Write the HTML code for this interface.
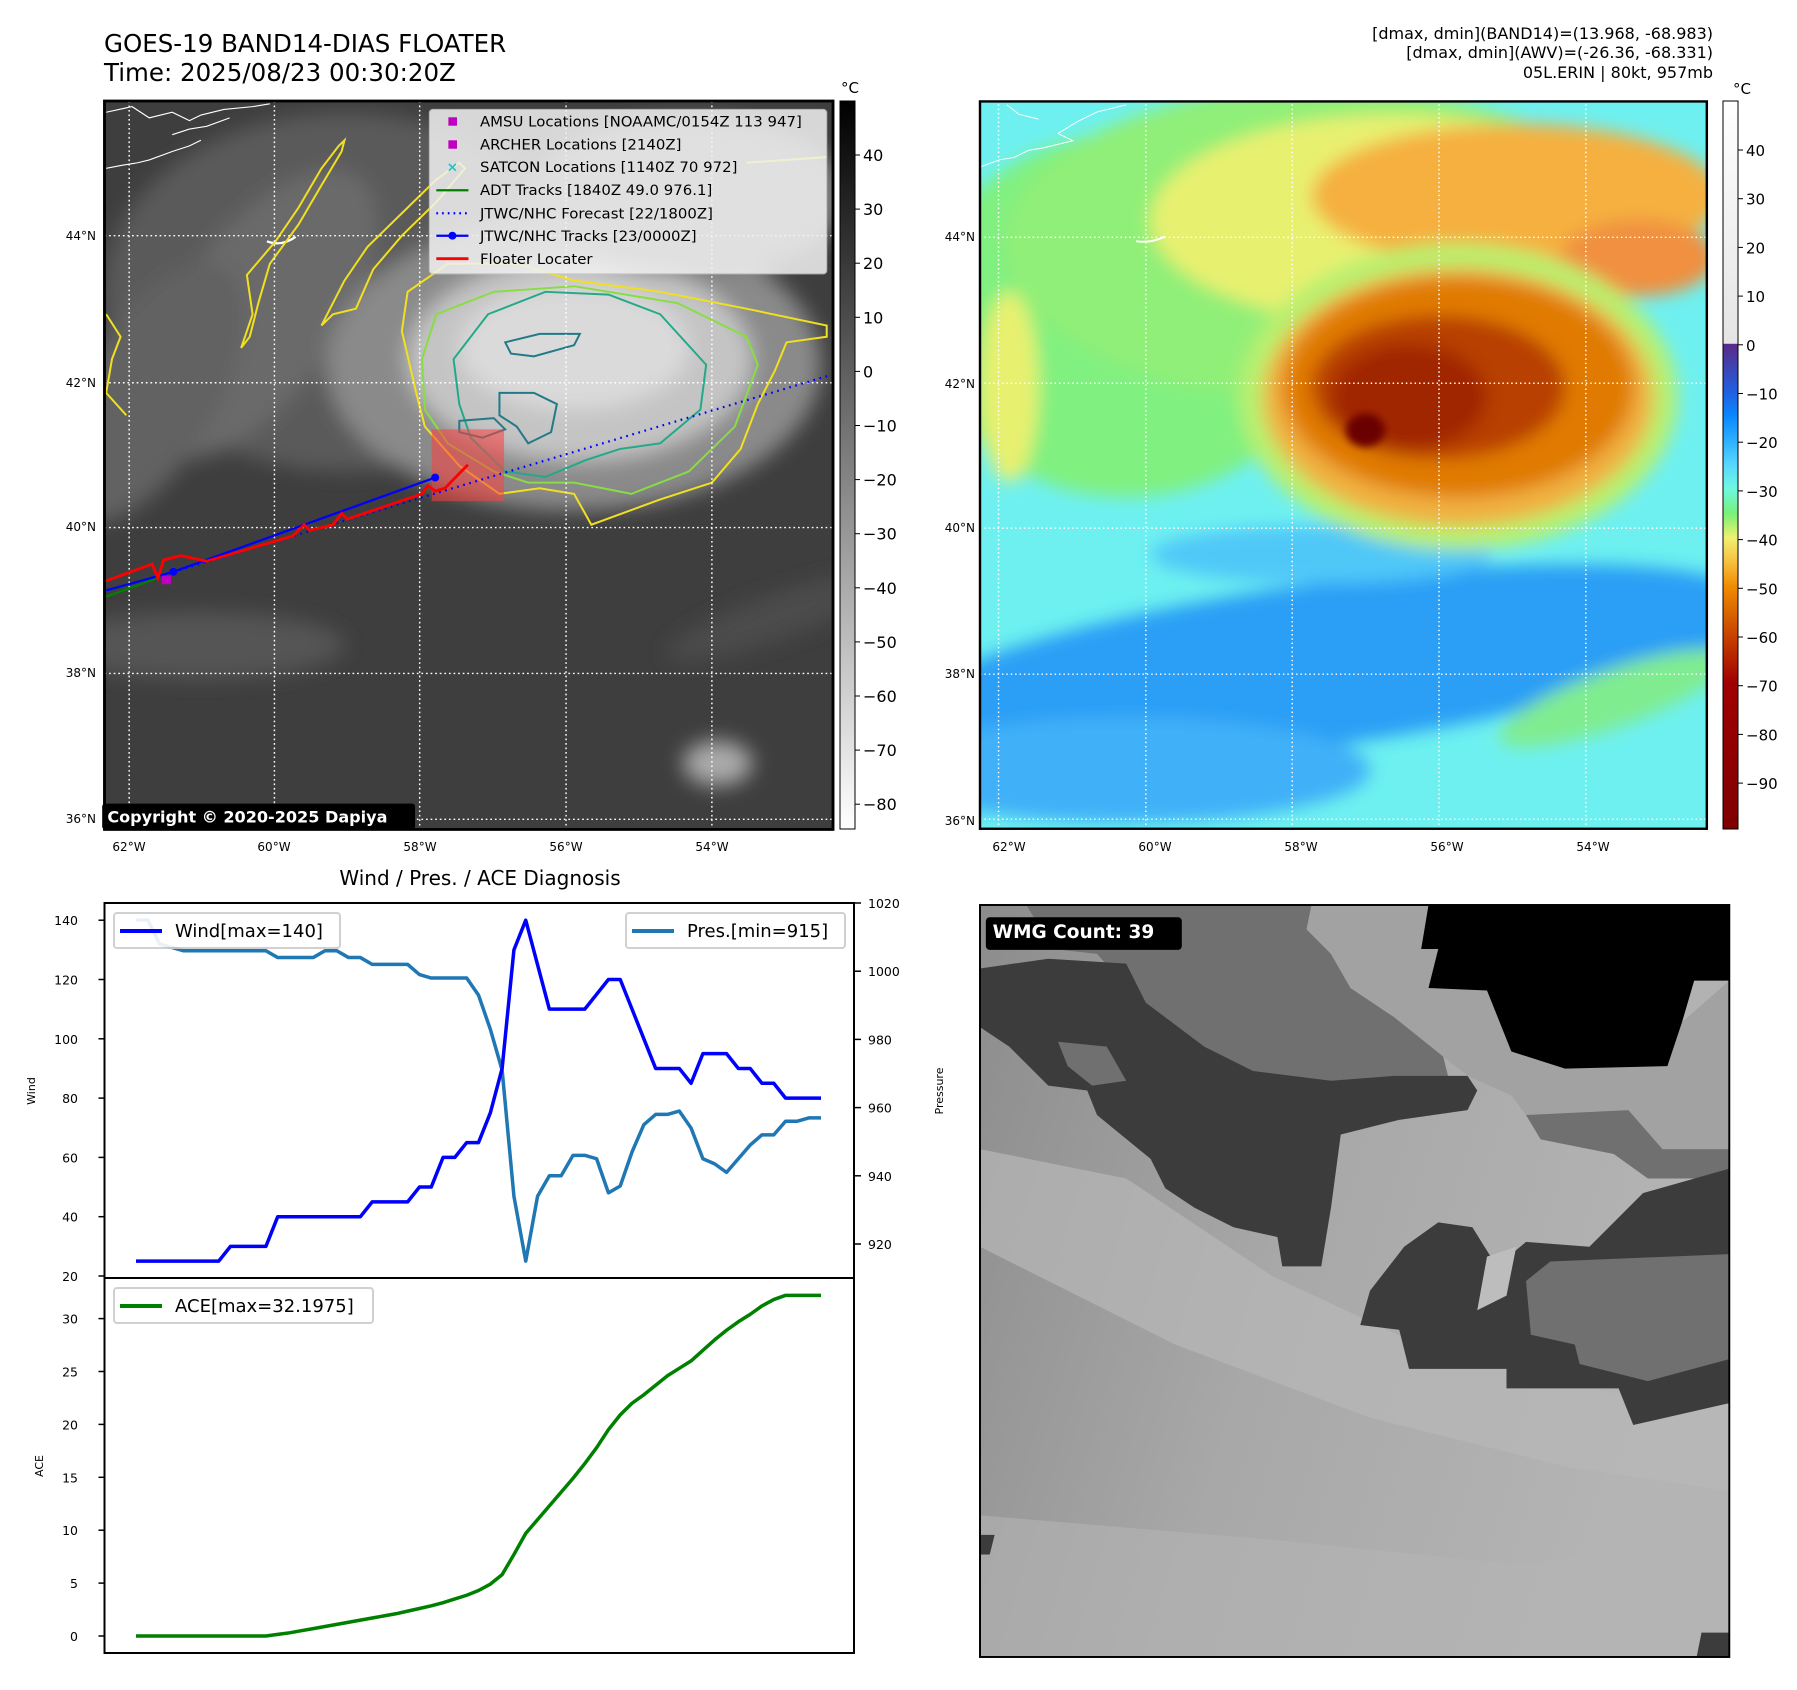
<!DOCTYPE html>
<html><head><meta charset="utf-8"><style>
html,body{margin:0;padding:0;background:#fff;}
svg{display:block;font-family:"DejaVu Sans","Liberation Sans",sans-serif;}
</style></head><body>
<svg id="root" width="1797" height="1690" viewBox="0 0 1797 1690" xmlns="http://www.w3.org/2000/svg">
<defs>
  <filter id="blur8" x="-30%" y="-30%" width="160%" height="160%"><feGaussianBlur stdDeviation="18"/></filter>
  <filter id="blur4" x="-30%" y="-30%" width="160%" height="160%"><feGaussianBlur stdDeviation="8"/></filter>
  <linearGradient id="cb1" x1="0" y1="0" x2="0" y2="1">
    <stop offset="0" stop-color="#000"/><stop offset="1" stop-color="#fff"/>
  </linearGradient>
  <linearGradient id="cb2" x1="0" y1="0" x2="0" y2="1">
    <stop offset="0" stop-color="#ffffff"/><stop offset="0.333" stop-color="#e4e4e4"/>
    <stop offset="0.334" stop-color="#5a2a8a"/><stop offset="0.4" stop-color="#2060e0"/>
    <stop offset="0.433" stop-color="#0a88ff"/><stop offset="0.47" stop-color="#30b4ff"/>
    <stop offset="0.5" stop-color="#58d8ff"/><stop offset="0.533" stop-color="#70f8e0"/>
    <stop offset="0.567" stop-color="#78f078"/><stop offset="0.6" stop-color="#f0f070"/>
    <stop offset="0.633" stop-color="#f8c040"/><stop offset="0.667" stop-color="#f08c00"/>
    <stop offset="0.733" stop-color="#c84400"/><stop offset="0.8" stop-color="#a00000"/>
    <stop offset="1" stop-color="#7e0000"/>
  </linearGradient>
  <linearGradient id="wmgbg" x1="0" y1="0" x2="1" y2="0.3">
    <stop offset="0" stop-color="#8c8c8c"/><stop offset="0.5" stop-color="#a8a8a8"/><stop offset="1" stop-color="#b4b4b4"/>
  </linearGradient>
  <clipPath id="clip1"><rect x="182" y="180" width="1269" height="1298"/></clipPath>
  <clipPath id="clip2"><rect x="0" y="3" width="1490" height="1520"/></clipPath>
  <clipPath id="clip3"><rect x="0" y="0" width="1537" height="1540"/></clipPath>
</defs>

<!-- Titles -->
<text x="104" y="52" font-size="24.5" fill="#000">GOES-19 BAND14-DIAS FLOATER</text>
<text x="104" y="81" font-size="24.5" fill="#000">Time: 2025/08/23 00:30:20Z</text>
<g font-size="16" text-anchor="end" fill="#000">
  <text x="1713" y="39">[dmax, dmin](BAND14)=(13.968, -68.983)</text>
  <text x="1713" y="58">[dmax, dmin](AWV)=(-26.36, -68.331)</text>
  <text x="1713" y="78">05L.ERIN | 80kt, 957mb</text>
</g>

<!-- MAP 1 (drawn in zoom coords) -->
<g transform="scale(0.5741,0.5612)">
  <g clip-path="url(#clip1)">
    <rect x="182" y="180" width="1269" height="1298" fill="#3e3e3e"/>
    <g filter="url(#blur8)">
      <ellipse cx="600" cy="520" rx="420" ry="320" fill="#5a5a5a"/>
      <ellipse cx="450" cy="560" rx="140" ry="300" fill="#6a6a6a" transform="rotate(35 450 560)"/>
      <ellipse cx="260" cy="700" rx="120" ry="260" fill="#626262" transform="rotate(30 260 700)"/>
      <ellipse cx="1000" cy="650" rx="430" ry="260" fill="#8a8a8a"/>
      <ellipse cx="1010" cy="640" rx="300" ry="180" fill="#c4c4c4"/>
      <ellipse cx="1000" cy="620" rx="200" ry="110" fill="#dadada"/>
      <ellipse cx="1200" cy="350" rx="280" ry="140" fill="#7a7a7a"/>
      <ellipse cx="350" cy="1150" rx="250" ry="60" fill="#555"/>
      <ellipse cx="1250" cy="1360" rx="60" ry="40" fill="#aaa"/>
      <ellipse cx="1350" cy="1100" rx="200" ry="40" fill="#4c4c4c" transform="rotate(-20 1350 1100)"/>
    </g>
    <path d="M185 200 L230 190 L260 210 L300 200 L330 215 L350 205 L390 195 L440 190 L470 185 M185 300 L210 295 L240 290 L260 285 L300 270 L330 260 L350 250 M300 240 L330 230 L360 225 L400 210" fill="none" stroke="#fff" stroke-width="2"/>
    <path d="M465 430 Q490 440 515 422" fill="none" stroke="#fff" stroke-width="4"/>
    <g fill="none" stroke-width="3.5">
      <path d="M420 620 L440 560 L430 490 L480 430 L520 370 L560 300 L590 260 L600 250 L595 270 L560 330 L520 400 L470 470 L450 540 L435 600 Z" stroke="#f0e020"/>
      <path d="M560 580 L600 500 L640 440 L700 380 L760 320 L800 290 L810 300 L760 360 L700 420 L650 480 L620 550 L580 560 Z" stroke="#f0e020"/>
      <path d="M700 590 L710 520 L780 470 L900 470 L1000 500 L1150 520 L1300 550 L1440 580 L1440 600 L1370 610 L1350 660 L1320 720 L1290 800 L1240 860 L1150 890 L1030 935 L1000 880 L940 870 L870 880 L800 830 L740 760 L725 700 Z" stroke="#f0e020"/>
      <path d="M735 640 L760 560 L860 520 L1000 510 L1180 540 L1300 600 L1320 650 L1280 760 L1200 840 L1100 880 L1000 860 L920 860 L860 840 L780 790 L740 730 Z" stroke="#88dd44"/>
      <path d="M790 640 L850 560 L950 520 L1060 525 L1150 560 L1230 650 L1220 730 L1150 790 L1080 800 L1020 820 L950 850 L880 840 L820 780 L800 720 Z" stroke="#22aa88"/>
      <path d="M880 610 L940 595 L1010 595 L1000 615 L930 635 L890 630 Z M870 700 L930 700 L970 720 L960 770 L920 790 L900 760 L870 740 Z M800 750 L860 745 L880 765 L840 780 L800 770 Z" stroke="#227a88"/>
      <path d="M185 560 L210 600 L195 640 L185 700 L220 740 M1300 290 L1440 280" stroke="#f0e020"/>
    </g>
    <g stroke="#fff" stroke-width="2.5" stroke-dasharray="3 5">
      <line x1="225" y1="180" x2="225" y2="1478"/><line x1="478" y1="180" x2="478" y2="1478"/>
      <line x1="731" y1="180" x2="731" y2="1478"/><line x1="986" y1="180" x2="986" y2="1478"/>
      <line x1="1240" y1="180" x2="1240" y2="1478"/>
      <line x1="182" y1="420" x2="1451" y2="420"/><line x1="182" y1="682" x2="1451" y2="682"/>
      <line x1="182" y1="940" x2="1451" y2="940"/><line x1="182" y1="1200" x2="1451" y2="1200"/>
      <line x1="182" y1="1460" x2="1451" y2="1460"/>
    </g>
    <rect x="752" y="765" width="126" height="128" fill="#ff4040" opacity="0.55"/>
    <polyline points="185,1063 275,1030" fill="none" stroke="#008000" stroke-width="4"/>
    <polyline points="302,1019 1448,668" fill="none" stroke="#0000ff" stroke-width="4" stroke-dasharray="3 8"/>
    <polyline points="185,1052 302,1019 758,851" fill="none" stroke="#0000ff" stroke-width="4"/>
    <circle cx="302" cy="1019" r="7" fill="#0000ff"/><circle cx="758" cy="851" r="7" fill="#0000ff"/>
    <polyline points="185,1035 265,1005 275,1030 285,998 315,990 360,1000 510,955 530,935 540,945 580,935 595,915 605,925 735,880 745,865 758,875 775,870 815,828" fill="none" stroke="#ff0000" stroke-width="5"/>
    <rect x="282" y="1026" width="16" height="15" fill="#c000c0"/>
  </g>
  <rect x="182" y="180" width="1269" height="1298" fill="none" stroke="#000" stroke-width="5"/>
  <g>
    <rect x="748" y="195" width="692" height="293" rx="6" fill="#f2f2f2" opacity="0.85" stroke="#ccc" stroke-width="2"/>
    <rect x="781" y="209" width="15" height="15" fill="#c000c0"/>
    <rect x="781" y="250" width="15" height="15" fill="#c000c0"/>
    <text x="788" y="306" font-size="24" fill="#20c0c0" text-anchor="middle" font-weight="bold">×</text>
    <line x1="760" y1="339" x2="816" y2="339" stroke="#008000" stroke-width="4"/>
    <line x1="760" y1="380" x2="816" y2="380" stroke="#0000ff" stroke-width="4" stroke-dasharray="3 7"/>
    <line x1="760" y1="420" x2="816" y2="420" stroke="#0000ff" stroke-width="4"/><circle cx="788" cy="420" r="7" fill="#0000ff"/>
    <line x1="760" y1="461" x2="816" y2="461" stroke="#ff0000" stroke-width="5"/>
    <g font-size="26" fill="#000" transform="scale(1,0.98)">
      <text x="836" y="230">AMSU Locations [NOAAMC/0154Z 113 947]</text>
      <text x="836" y="272">ARCHER Locations [2140Z]</text>
      <text x="836" y="313">SATCON Locations [1140Z 70 972]</text>
      <text x="836" y="355">ADT Tracks [1840Z 49.0 976.1]</text>
      <text x="836" y="397">JTWC/NHC Forecast [22/1800Z]</text>
      <text x="836" y="438">JTWC/NHC Tracks [23/0000Z]</text>
      <text x="836" y="480">Floater Locater</text>
    </g>
  </g>
  <rect x="178" y="1432" width="545" height="46" rx="5" fill="#000"/>
  <text x="187" y="1466" font-size="28" font-weight="bold" fill="#fff">Copyright © 2020-2025 Dapiya</text>
</g>
<g font-size="12" fill="#000" text-anchor="end">
  <text x="96" y="240">44°N</text><text x="96" y="387">42°N</text><text x="96" y="531">40°N</text><text x="96" y="677">38°N</text><text x="96" y="823">36°N</text>
</g>
<g font-size="12" fill="#000" text-anchor="middle">
  <text x="129" y="851">62°W</text><text x="274" y="851">60°W</text><text x="420" y="851">58°W</text><text x="566" y="851">56°W</text><text x="712" y="851">54°W</text>
</g>
<g>
  <rect x="840" y="101" width="15" height="728" fill="url(#cb1)" stroke="#000" stroke-width="1"/>
  <text x="850" y="93" font-size="15" text-anchor="middle">°C</text>
  <g font-size="16" fill="#000" id="cb1labels"></g>
</g>

<!-- MAP 2 -->
<g transform="translate(980,100) scale(0.4878,0.4785)">
  <g clip-path="url(#clip2)">
    <rect x="0" y="0" width="1490" height="1525" fill="#6ef0f0"/>
    <g filter="url(#blur8)">
      <ellipse cx="700" cy="1180" rx="900" ry="170" fill="#2c9ff5" transform="rotate(-8 700 1180)"/>
      <ellipse cx="300" cy="1400" rx="500" ry="110" fill="#40b0f8"/>
      <ellipse cx="700" cy="950" rx="350" ry="60" fill="#50c8f8"/>
      <ellipse cx="300" cy="450" rx="420" ry="380" fill="#80f080"/>
      <ellipse cx="700" cy="300" rx="650" ry="330" fill="#90ef78"/>
      <ellipse cx="850" cy="250" rx="500" ry="220" fill="#e8f070"/>
      <ellipse cx="1100" cy="200" rx="420" ry="150" fill="#f5b040"/>
      <ellipse cx="1350" cy="330" rx="160" ry="80" fill="#f09040"/>
      <ellipse cx="980" cy="620" rx="450" ry="320" fill="#b8f070"/>
      <ellipse cx="980" cy="620" rx="400" ry="270" fill="#f0b040"/>
      <ellipse cx="980" cy="600" rx="360" ry="230" fill="#e07a00"/>
      <ellipse cx="940" cy="600" rx="260" ry="150" fill="#b84000"/>
      <ellipse cx="880" cy="620" rx="160" ry="110" fill="#a02800"/>
      <ellipse cx="1300" cy="1250" rx="250" ry="60" fill="#80ec90" transform="rotate(-20 1300 1250)"/>
      <ellipse cx="60" cy="600" rx="60" ry="200" fill="#e8f070"/>
    </g>
    <ellipse cx="790" cy="690" rx="40" ry="35" fill="#6a0000" filter="url(#blur4)"/>
    <path d="M0 140 L40 125 L70 120 L100 105 L130 100 L190 85 L160 70 L200 45 L240 25 L300 10 M55 10 L80 30 L120 40" fill="none" stroke="#fff" stroke-width="2"/>
    <path d="M320 295 Q350 300 380 285" fill="none" stroke="#fff" stroke-width="4"/>
    <g stroke="#fff" stroke-width="3" stroke-dasharray="3 6">
      <line x1="38" y1="0" x2="38" y2="1525"/><line x1="340" y1="0" x2="340" y2="1525"/>
      <line x1="640" y1="0" x2="640" y2="1525"/><line x1="941" y1="0" x2="941" y2="1525"/>
      <line x1="1242" y1="0" x2="1242" y2="1525"/>
      <line x1="0" y1="287" x2="1490" y2="287"/><line x1="0" y1="592" x2="1490" y2="592"/>
      <line x1="0" y1="895" x2="1490" y2="895"/><line x1="0" y1="1200" x2="1490" y2="1200"/>
      <line x1="0" y1="1503" x2="1490" y2="1503"/>
    </g>
  </g>
  <rect x="0" y="3" width="1490" height="1520" fill="none" stroke="#000" stroke-width="5"/>
</g>
<g font-size="12" fill="#000" text-anchor="end">
  <text x="975" y="241">44°N</text><text x="975" y="388">42°N</text><text x="975" y="532">40°N</text><text x="975" y="678">38°N</text><text x="975" y="825">36°N</text>
</g>
<g font-size="12" fill="#000" text-anchor="middle">
  <text x="1009" y="851">62°W</text><text x="1155" y="851">60°W</text><text x="1301" y="851">58°W</text><text x="1447" y="851">56°W</text><text x="1593" y="851">54°W</text>
</g>
<g>
  <rect x="1723" y="101" width="15" height="728" fill="url(#cb2)" stroke="#000" stroke-width="1"/>
  <text x="1742" y="94" font-size="15" text-anchor="middle">°C</text>
  <g font-size="15" fill="#000" id="cb2labels"></g>
</g>

<!-- WMG panel -->
<g transform="translate(980,905) scale(0.4875,0.4883)">
  <g clip-path="url(#clip3)">
    <rect x="0" y="0" width="1537" height="1540" fill="url(#wmgbg)"/>
    <path d="M0 500 L300 560 L600 760 L900 900 L1300 1000 L1537 980 L1537 1200 L1200 1150 L800 1050 L400 900 L0 700 Z" fill="#b8b8b8" opacity="0.7"/>
    <path d="M0 1250 L600 1300 L1100 1350 L1537 1300 L1537 1540 L0 1540 Z" fill="#b4b4b4" opacity="0.6"/>
    <path d="M95 0 L680 0 L670 50 L720 100 L760 170 L850 230 L950 310 L960 350 L850 370 L720 390 L600 360 L470 330 L420 260 L330 200 L240 100 L150 90 Z" fill="#707070"/>
    <path d="M680 0 L920 0 L905 90 L940 90 L920 170 L1040 175 L1090 300 L1200 335 L1410 330 L1440 240 L1537 155 L1537 500 L1400 500 L1330 420 L1120 430 L1090 390 L1000 350 L950 310 L850 230 L760 170 L720 100 L670 50 Z" fill="#a2a2a2"/>
    <path d="M1120 430 L1330 420 L1400 500 L1537 500 L1537 560 L1370 560 L1300 510 L1150 480 Z" fill="#707070"/>
    <path d="M920 0 L1537 0 L1537 155 L1465 155 L1440 240 L1410 330 L1200 335 L1090 300 L1040 175 L920 170 L940 90 L905 90 Z" fill="#000"/>
    <path d="M0 130 L140 110 L300 120 L340 200 L460 290 L560 340 L720 360 L850 350 L1000 350 L1020 380 L1000 420 L860 440 L740 470 L720 620 L700 740 L620 740 L610 680 L520 660 L440 620 L380 580 L350 520 L240 430 L220 380 L140 370 L60 290 L0 250 Z" fill="#3c3c3c"/>
    <path d="M160 280 L260 290 L300 360 L230 370 L180 330 Z" fill="#707070"/>
    <path d="M780 860 L800 790 L870 700 L940 650 L1010 660 L1060 740 L1120 690 L1250 700 L1360 590 L1537 540 L1537 1020 L1340 1065 L1310 990 L1080 990 L1080 950 L880 950 L860 870 Z" fill="#3c3c3c"/>
    <path d="M1120 770 L1170 730 L1537 715 L1537 930 L1370 975 L1230 940 L1220 900 L1130 880 Z" fill="#707070"/>
    <path d="M1040 720 L1100 700 L1080 800 L1020 830 Z" fill="#bdbdbd"/>
    <path d="M0 1290 L30 1290 L20 1330 L0 1330 Z M1480 1490 L1537 1490 L1537 1540 L1470 1540 Z" fill="#3c3c3c"/>
  </g>
  <rect x="0" y="0" width="1537" height="1540" fill="none" stroke="#000" stroke-width="4"/>
  <rect x="12" y="25" width="402" height="67" rx="8" fill="#000"/>
  <text x="26" y="68" font-size="38" font-weight="bold" fill="#fff">WMG Count: 39</text>
</g>

<text x="480" y="885" font-size="20" text-anchor="middle" fill="#000">Wind / Pres. / ACE Diagnosis</text>
<g id="chart"></g>
</svg>
<script>
const NS = "http://www.w3.org/2000/svg";
// ---- data ----
const windValues = [25,25,25,25,25,25,25,25,30,30,30,30,40,40,40,40,40,40,40,40,45,45,45,45,50,50,60,60,65,65,75,90,130,140,125,110,110,110,110,115,120,120,110,100,90,90,90,85,95,95,95,90,90,85,85,80,80,80,80];
const presValues = [1015,1015,1008,1007,1006,1006,1006,1006,1006,1006,1006,1006,1004,1004,1004,1004,1006,1006,1004,1004,1002,1002,1002,1002,999,998,998,998,998,993,983,971,934,915,934,940,940,946,946,945,935,937,947,955,958,958,959,954,945,943.5,941,945,949,952,952,956,956,957,957];
const aceValues = [0,0,0,0,0,0,0,0,0,0,0,0,0.15,0.3,0.5,0.7,0.9,1.1,1.3,1.5,1.7,1.9,2.1,2.35,2.6,2.85,3.15,3.5,3.85,4.3,4.9,5.8,7.7,9.7,11,12.3,13.6,14.9,16.3,17.8,19.5,20.9,22,22.8,23.7,24.6,25.3,26,27,28,28.9,29.7,30.4,31.2,31.8,32.2,32.2,32.2,32.2];
const windTicks = [20,40,60,80,100,120,140];
const presTicks = [920,940,960,980,1000,1020];
const aceTicks = [0,5,10,15,20,25,30];
const cb1Ticks = [40,30,20,10,0,-10,-20,-30,-40,-50,-60,-70,-80];
const cb2Ticks = [40,30,20,10,0,-10,-20,-30,-40,-50,-60,-70,-80,-90];

const L=104.5, R=854, T1=903, B1=1278, B2=1653;
const xS = i => 136 + i*(821-136)/58;
const yW = v => 1276 - (v-20)*59.3/20;
const yP = v => 903 + (1020-v)*68.2/20;
const yA = v => 1636 - v*52.9/5;
const cbY1 = v => 155 + (40-v)*5.41;
const cbY2 = v => 150 + (40-v)*4.87;

const chart = document.getElementById('chart');
function mk(tag, attrs, parent){ const e=document.createElementNS(NS,tag); for(const k in attrs) e.setAttribute(k,attrs[k]); (parent||chart).appendChild(e); return e; }

let f1 = mk('rect',{x:L,y:T1,width:R-L,height:B1-T1,fill:'none',stroke:'#000','stroke-width':2});


let f2 = mk('rect',{x:L,y:B1,width:R-L,height:B2-B1,fill:'none',stroke:'#000','stroke-width':2});



function line(pts, color, w, name){
  const p = mk('polyline',{points:pts.join(' '),fill:'none',stroke:color,'stroke-width':w,'stroke-linejoin':'round'});
  
  
}
line(presValues.map((v,i)=>xS(i)+','+yP(v)), '#1f77b4', 3.5, 'pressure-line');
line(windValues.map((v,i)=>xS(i)+','+yW(v)), '#0000ff', 3.5, 'wind-line');
line(aceValues.map((v,i)=>xS(i)+','+yA(v)), '#008000', 3.5, 'ace-line');

windTicks.forEach(v=>{
  mk('line',{x1:L-6,y1:yW(v),x2:L,y2:yW(v),stroke:'#000','stroke-width':1.5});
  const t=mk('text',{x:78,y:yW(v)+5,'font-size':12.5,'text-anchor':'end'}); t.textContent=v;
  
  
});
presTicks.forEach(v=>{
  mk('line',{x1:R,y1:yP(v),x2:R+7,y2:yP(v),stroke:'#000','stroke-width':1.5});
  const t=mk('text',{x:868,y:yP(v)+5,'font-size':12.5}); t.textContent=v;
  
  
});
aceTicks.forEach(v=>{
  mk('line',{x1:L-6,y1:yA(v),x2:L,y2:yA(v),stroke:'#000','stroke-width':1.5});
  const t=mk('text',{x:78,y:yA(v)+5,'font-size':12.5,'text-anchor':'end'}); t.textContent=v;
  
  
});
let yl1=mk('text',{x:0,y:0,'font-size':11,'text-anchor':'middle',transform:'translate(35,1091) rotate(-90)'}); yl1.textContent='Wind';


let yl2=mk('text',{x:0,y:0,'font-size':11,'text-anchor':'middle',transform:'translate(943,1091) rotate(-90)'}); yl2.textContent='Pressure';


let yl3=mk('text',{x:0,y:0,'font-size':11,'text-anchor':'middle',transform:'translate(43,1466) rotate(-90)'}); yl3.textContent='ACE';



function legend(x,y,w,color,label,name){
  const g=mk('g',{});
  
  
  mk('rect',{x:x,y:y,width:w,height:35,rx:3,fill:'#fff',stroke:'#ccc','stroke-width':2,opacity:0.9},g);
  mk('line',{x1:x+6,y1:y+18,x2:x+48,y2:y+18,stroke:color,'stroke-width':4},g);
  const t=mk('text',{x:x+61,y:y+24,'font-size':18},g); t.textContent=label;
}
legend(114,913,226,'#0000ff','Wind[max=140]','wind-legend');
legend(626,913,219,'#1f77b4','Pres.[min=915]','pressure-legend');
legend(114,1288,259,'#008000','ACE[max=32.1975]','ace-legend');

const cb1=document.getElementById('cb1labels');
cb1Ticks.forEach(v=>{
  mk('line',{x1:855,y1:cbY1(v),x2:860,y2:cbY1(v),stroke:'#000','stroke-width':1},cb1);
  const t=mk('text',{x:863,y:cbY1(v)+6},cb1); t.textContent=(v<0?'\u2212'+(-v):v);
  
  
});
const cb2=document.getElementById('cb2labels');
cb2Ticks.forEach(v=>{
  mk('line',{x1:1738,y1:cbY2(v),x2:1743,y2:cbY2(v),stroke:'#000','stroke-width':1},cb2);
  const t=mk('text',{x:1746,y:cbY2(v)+6},cb2); t.textContent=(v<0?'\u2212'+(-v):v);
  
  
});
</script>
</body></html>
